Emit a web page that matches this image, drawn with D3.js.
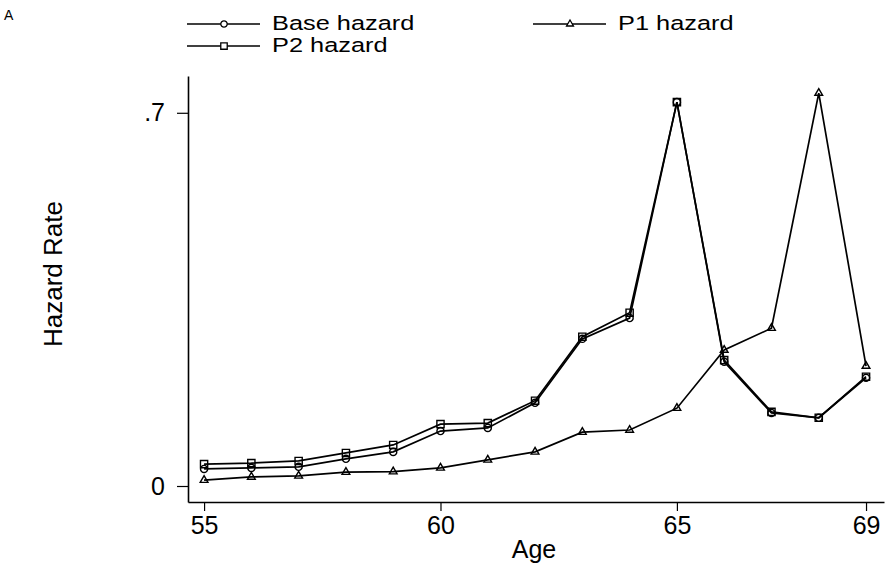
<!DOCTYPE html>
<html>
<head>
<meta charset="utf-8">
<script src="https://cdn.jsdelivr.net/npm/d3@7"></script>
<style>
  body { margin: 0; background: #fff; }
  svg { display: block; font-family: "Liberation Sans", Arial, sans-serif; }
</style>
</head>
<body>
<div id="chart"></div>
<script>
const ages = [55, 56, 57, 58, 59, 60, 61, 62, 63, 64, 65, 66, 67, 68, 69]
const baseHazard = [0.032, 0.034, 0.036, 0.051, 0.064, 0.103, 0.109, 0.156, 0.276, 0.315, 0.72, 0.233, 0.137, 0.128, 0.203]
const p1Hazard = [0.011, 0.017, 0.019, 0.026, 0.027, 0.034, 0.049, 0.064, 0.101, 0.105, 0.146, 0.255, 0.296, 0.737, 0.225]
const p2Hazard = [0.041, 0.043, 0.047, 0.062, 0.077, 0.116, 0.118, 0.160, 0.280, 0.325, 0.72, 0.236, 0.139, 0.128, 0.205]
const xTicks = [55, 60, 65, 69]
const yTicks = [0, 0.7]

const width = 888, height = 571
const margin = {top: 76, right: 4, bottom: 69, left: 188}

const svg = d3.select('#chart').append('svg')
  .attr('width', width).attr('height', height)

const x = d3.scaleLinear().domain([54.66, 69.38]).range([margin.left, width - margin.right])
const y = d3.scaleLinear().domain([-0.03, 0.769]).range([height - margin.bottom, margin.top])

// axes
const xAxis = d3.axisBottom(x).tickValues(xTicks).tickSize(9).tickSizeOuter(0).tickPadding(5)
const yAxis = d3.axisLeft(y).tickValues(yTicks).tickSize(11).tickSizeOuter(0).tickPadding(12)
  .tickFormat(d => d === 0 ? '0' : d3.format('.1f')(d).replace(/^0/, ''))

const gx = svg.append('g').attr('transform', `translate(0,${height - margin.bottom})`).call(xAxis)
const gy = svg.append('g').attr('transform', `translate(${margin.left},0)`).call(yAxis)
for (const g of [gx, gy]) {
  g.attr('font-family', null)
  g.select('.domain').attr('stroke', '#000').attr('stroke-width', 1.6)
  g.selectAll('.tick line').attr('stroke', '#000').attr('stroke-width', 1.2)
  g.selectAll('.tick text').attr('fill', '#000').attr('font-size', 25)
}

svg.append('text').attr('x', 534).attr('y', 558).attr('text-anchor', 'middle')
  .attr('font-size', 25).text('Age')
svg.append('text').attr('transform', 'translate(62,274) rotate(-90)').attr('text-anchor', 'middle')
  .attr('font-size', 26).text('Hazard Rate')
svg.append('text').attr('x', 4).attr('y', 20).attr('font-size', 14).text('A')

const series = [
  {name: 'Base hazard', values: baseHazard, symbol: d3.symbolCircle, size: 40},
  {name: 'P1 hazard', values: p1Hazard, symbol: d3.symbolTriangle, size: 26},
  {name: 'P2 hazard', values: p2Hazard, symbol: d3.symbolSquare, size: 52}
]

const line = d3.line().x((d, i) => x(ages[i])).y(d => y(d))

const plot = svg.append('g')
series.forEach(s => {
  plot.append('path').datum(s.values).attr('d', line)
    .attr('fill', 'none').attr('stroke', '#000').attr('stroke-width', 1.7)
  plot.selectAll(null).data(s.values).join('path')
    .attr('transform', (d, i) => `translate(${x(ages[i])},${y(d)})`)
    .attr('d', d3.symbol(s.symbol, s.size))
    .attr('fill', 'none').attr('stroke', '#000').attr('stroke-width', 1.4)
})

// legend (text is wide in the original, so stretch it horizontally)
const legendPos = [
  {x: 187, y: 24}, // Base
  {x: 533, y: 24}, // P1
  {x: 187, y: 46}  // P2
]
series.forEach((s, i) => {
  const p = legendPos[i]
  const g = svg.append('g').attr('transform', `translate(${p.x},${p.y})`)
  g.append('line').attr('x1', 0).attr('x2', 73).attr('stroke', '#000').attr('stroke-width', 1.6)
  g.append('path').attr('transform', 'translate(37,0)')
    .attr('d', d3.symbol(s.symbol, s.size * 0.8)).attr('fill', '#fff')
    .attr('stroke', '#000').attr('stroke-width', 1.3)
  g.append('text').attr('transform', 'translate(85,6) scale(1.3,1)')
    .attr('font-size', 19.5).text(s.name)
})
</script>
</body>
</html>
